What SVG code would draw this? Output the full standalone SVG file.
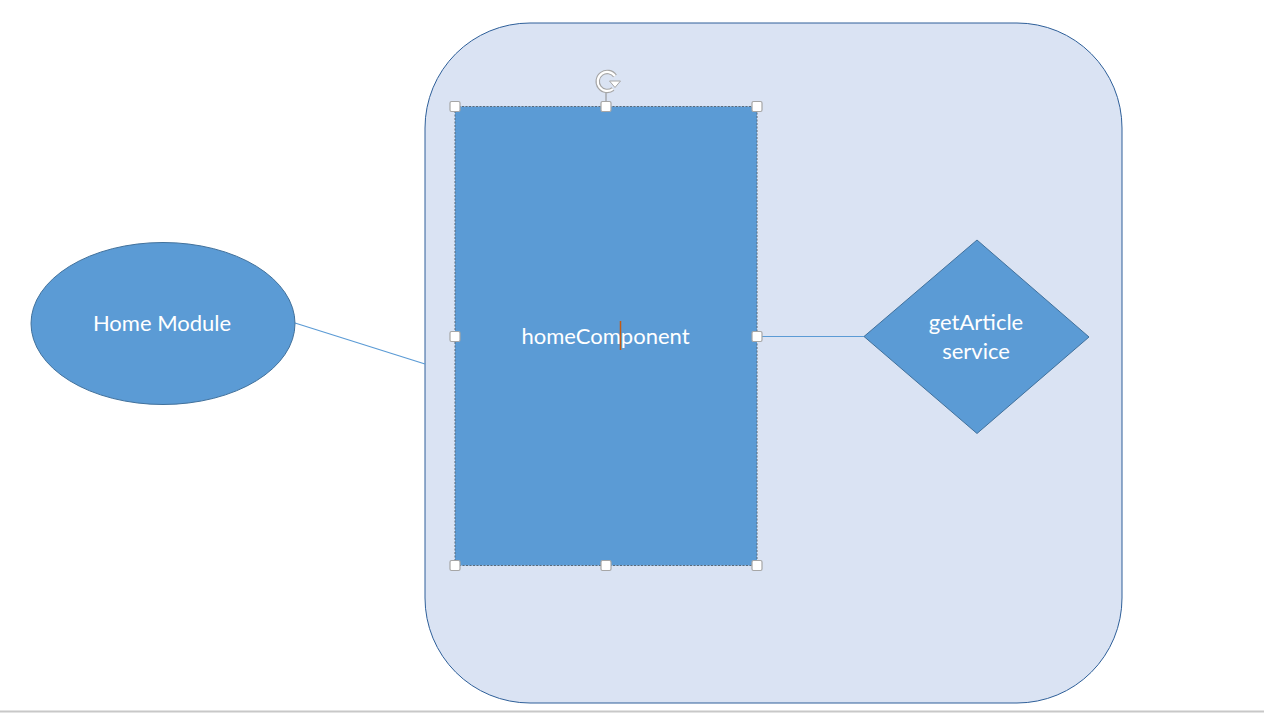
<svg xmlns="http://www.w3.org/2000/svg" width="1264" height="713" viewBox="0 0 1264 713">
<style>
.shape{fill:#5B9BD5;stroke:#41719C;stroke-width:1}
.conn{stroke:#5B9BD5;stroke-width:1.2;fill:none}
.lbl{font-family:Lato,"Open Sans","Liberation Sans",sans-serif;font-size:22px;fill:#FFFFFF;text-anchor:middle}
.handle{fill:#FFFFFF;stroke:#A6A6A6;stroke-width:1.2}
</style>
<rect x="0" y="0" width="1264" height="713" fill="#FFFFFF"/>
<line x1="0" y1="711.5" x2="1264" y2="711.5" stroke="#C8C8C8" stroke-width="2"/>
<g id="container">
<rect x="425" y="23" width="697" height="680" rx="105" ry="105" fill="#DAE3F3" stroke="#2E5F99" stroke-width="1"/>
</g>
<g id="connectors">
<line class="conn" x1="295" y1="323" x2="425" y2="364"/>
<line class="conn" x1="757" y1="336.5" x2="864" y2="336.5"/>
</g>
<g id="home-module">
<ellipse class="shape" cx="163" cy="323.5" rx="132" ry="81"/>
<text class="lbl" x="162" y="331">Home Module</text>
</g>
<g id="home-component">
<rect x="455" y="106.5" width="302" height="459" fill="#5B9BD5" stroke="#5A6A7A" stroke-width="1" stroke-dasharray="2,1.5"/>
<text class="lbl" x="605.5" y="344">homeComponent</text>
<line x1="620.5" y1="321" x2="620.5" y2="350" stroke="#C55A11" stroke-width="1.5"/>
<line x1="606" y1="93" x2="606" y2="103" stroke="#8C8C8C" stroke-width="1"/>
<path d="M 615 76 A 9.5 9.5 0 1 0 613 89" fill="none" stroke="#A6A6A6" stroke-width="4.5"/>
<path d="M 615 76 A 9.5 9.5 0 1 0 613 89" fill="none" stroke="#FFFFFF" stroke-width="2.2"/>
<polygon points="609.5,81 620.5,81 615,87.5" fill="#FFFFFF" stroke="#A6A6A6" stroke-width="1"/>
<rect class="handle" x="450" y="101.5" width="10" height="10" rx="1.5"/>
<rect class="handle" x="601" y="101.5" width="10" height="10" rx="1.5"/>
<rect class="handle" x="752" y="101.5" width="10" height="10" rx="1.5"/>
<rect class="handle" x="450" y="331.5" width="10" height="10" rx="1.5"/>
<rect class="handle" x="752" y="331.5" width="10" height="10" rx="1.5"/>
<rect class="handle" x="450" y="560.5" width="10" height="10" rx="1.5"/>
<rect class="handle" x="601" y="560.5" width="10" height="10" rx="1.5"/>
<rect class="handle" x="752" y="560.5" width="10" height="10" rx="1.5"/>
</g>
<g id="getarticle-service">
<polygon class="shape" points="864,336.5 977,240 1089,337 977,433.5"/>
<text class="lbl" x="976" y="330">getArticle</text>
<text class="lbl" x="976" y="359">service</text>
</g>
</svg>
